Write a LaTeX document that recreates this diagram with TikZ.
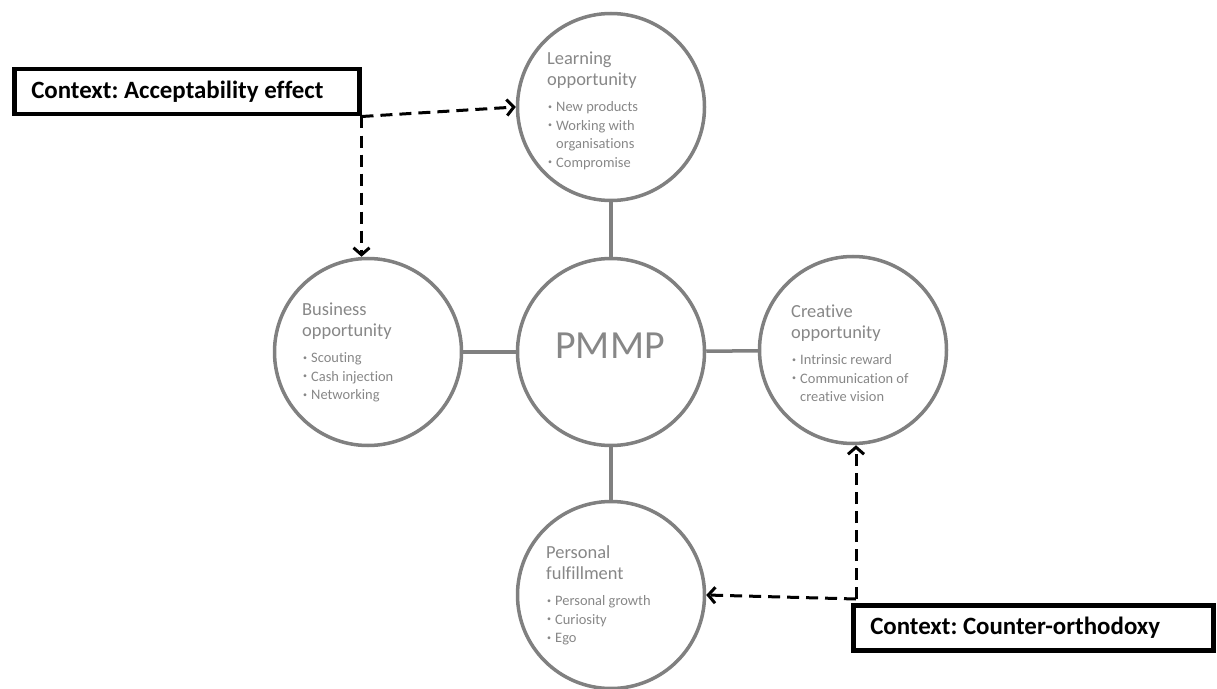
\documentclass[tikz,border=0pt]{standalone}
\usepackage{fontspec}
\setmainfont{Carlito}[Ligatures=NoCommon]
\usepackage{tikz}
\usetikzlibrary{
    arrows.meta,
    positioning,
    calc
}
\definecolor{Cline}{HTML}{808080}
\definecolor{Ctext}{HTML}{878787}
\frenchspacing

\newcommand{\opheading}[1]{{\fontsize{18.5}{21}\selectfont #1\par}\vspace{7.5bp}}
\newcommand{\opitem}[1]{\makebox[9bp][l]{\hspace{1bp}\raisebox{0.35ex}{\fontsize{8}{8}\selectfont\textbullet}}#1}
\newcommand{\opcont}[1]{\hspace*{9bp}#1}

\tikzset{
    opcircle/.style={circle, draw=Cline, line width=3.5bp, minimum size=187bp, inner sep=0pt, text=Ctext},
    spoke/.style={draw=Cline, line width=3.5bp},
    optext/.style={anchor=north west, inner sep=0pt, text width=150bp, align=flush left, text=Ctext},
    ctxbox/.style={draw=black, line width=4.5bp, inner xsep=17bp, inner ysep=0pt, minimum height=45bp,
        align=flush left, anchor=north west, font=\fontsize{25}{28}\selectfont\bfseries},
    ctxarrow/.style={black, line width=3bp, dash pattern=on 12bp off 7bp,
        -{Straight Barb[length=7bp, width=16bp, line width=3bp]}}
}

\begin{document}
\begin{tikzpicture}[x=1bp, y=-1bp]
\useasboundingbox (0,0) rectangle (1217,689);

% Circles
\node[opcircle] (pmmp)     at (611,352) {};
\node[opcircle] (learn)    at (611,107) {};
\node[opcircle] (business) at (368,352) {};
\node[opcircle] (creative) at (853,350) {};
\node[opcircle] (personal) at (611,595) {};
\node[text=Ctext, font=\fontsize{40}{44}\selectfont] (pmmplabel) at (610,346) {PMMP};

% Spokes
\draw[spoke] (learn) -- (pmmp);
\draw[spoke] (business) -- (pmmp);
\draw[spoke] (pmmp) -- (creative);
\draw[spoke] (pmmp) -- (personal);

% Texts inside the circles
\node[optext] (learntxt) at (547,52) {\opheading{Learning\\opportunity}%
    {\fontsize{14.5}{18.5}\selectfont \opitem{New products}\\\opitem{Working with}\\\opcont{organisations}\\\opitem{Compromise}\par}};
\node[optext] (businesstxt) at (302,303) {\opheading{Business\\opportunity}%
    {\fontsize{14.5}{18.5}\selectfont \opitem{Scouting}\\\opitem{Cash injection}\\\opitem{Networking}\par}};
\node[optext] (creativetxt) at (791,305) {\opheading{Creative\\opportunity}%
    {\fontsize{14.5}{18.5}\selectfont \opitem{Intrinsic reward}\\\opitem{Communication of}\\\opcont{creative vision}\par}};
\node[optext] (personaltxt) at (546,546) {\opheading{Personal\\fulfillment}%
    {\fontsize{14.5}{18.5}\selectfont \opitem{Personal growth}\\\opitem{Curiosity}\\\opitem{Ego}\par}};

% Context boxes
\node[ctxbox, text width=311bp] (ctxA) at (12,67) {Context: Acceptability effect};
\node[ctxbox, text width=326bp] (ctxB) at (851,603) {Context: Counter-orthodoxy};

% Dashed context arrows
\coordinate (ctxAcorner) at (ctxA.south east);
\coordinate (ctxBcorner) at ($(creative.south |- ctxB.north)+(3,-4)$);
\draw[ctxarrow] (ctxAcorner) -- (learn.west);
\draw[ctxarrow] (ctxAcorner) -- (ctxAcorner |- business.north);
\draw[ctxarrow] (ctxBcorner) -- (ctxBcorner |- creative.south);
\draw[ctxarrow] (ctxBcorner) -- (personal.east);

\end{tikzpicture}
\end{document}
